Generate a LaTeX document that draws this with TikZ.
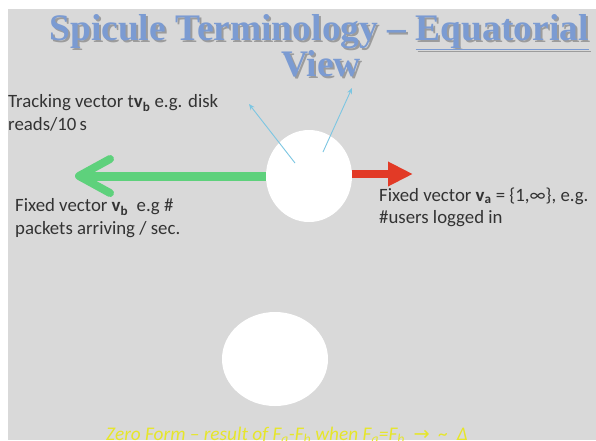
\documentclass[tikz,border=0pt]{standalone}
\usepackage{fontspec}
\setmainfont{Carlito}
\newfontfamily\titlefont{Liberation Serif}
\newfontfamily\symfont{DejaVu Sans}
\usetikzlibrary{shapes.geometric,arrows.meta}
\definecolor{bg}{HTML}{D9D9D9}
\definecolor{titleblue}{HTML}{7B9BD2}
\definecolor{shadowgray}{HTML}{9C9C9C}
\definecolor{arrgreen}{HTML}{5ED17C}
\definecolor{arrred}{HTML}{E23A26}
\definecolor{thinblue}{HTML}{7CC6E2}
\definecolor{zeroyellow}{HTML}{E6E62A}
\definecolor{txt}{HTML}{333333}
\newcommand{\shadowed}[1]{\makebox[0pt][l]{\hspace{2pt}\raisebox{-2pt}{\color{shadowgray}#1}}#1}
\tikzset{
  ball/.style={ellipse, fill=white, draw=none, inner sep=0pt},
  label text/.style={font=\fontsize{18.8}{22.5}\selectfont, text=txt, align=left, anchor=north west, inner sep=0pt},
  title text/.style={font=\titlefont\bfseries\fontsize{37.5}{40}\selectfont, text=titleblue, inner sep=0pt, anchor=base},
  thinarrow/.style={draw=thinblue, line width=0.9pt, -{Stealth[length=6pt,width=5pt]}},
}
\begin{document}
\begin{tikzpicture}[x=1pt,y=-1pt]
\useasboundingbox (0,0) rectangle (596,440);
\clip (0,0) rectangle (596,440);
\fill[bg] (8,9) rectangle (596,440);
% title
\node[title text] (t1) at (319,40) {\shadowed{Spicule Terminology – \underline{Equatorial}}};
\node[title text] (t2) at (321,76) {\shadowed{View}};
% balls
\node[ball, minimum width=86pt, minimum height=92pt] (c1) at (309,176) {};
\node[ball, minimum width=106pt, minimum height=94pt] (c2) at (275,359) {};
% blue tracking arrows
\coordinate (b1s) at (295,163);
\coordinate (b1e) at (249,104);
\coordinate (b2s) at (323,152);
\coordinate (b2e) at (352,88);
\draw[thinarrow] (b1s) -- (b1e);
\draw[thinarrow] (b2s) -- (b2e);
% green arrow
\coordinate (gtip) at (79,176);
\coordinate (gw1) at (110,159);
\coordinate (gw2) at (110,193);
\draw[arrgreen, line width=9pt] (c1.west) -- (gtip);
\draw[arrgreen, line width=8pt, line cap=round, line join=round] (gw1) -- (gtip) -- (gw2);
% red arrow
\coordinate (rtip) at (413,174);
\draw[arrred, line width=8pt, -{Triangle[length=25pt,width=23pt]}] (c1.east |- rtip) -- (rtip);
% labels
\node[label text] (l1) at (8,94.5) {Tracking vector t\textbf{v}\textsubscript{\textbf{b}} e.g. disk\\reads/10\,s};
\node[label text] (l2) at (15,198.5) {Fixed vector \textbf{v}\textsubscript{\textbf{b}}\ \ e.g \#\\packets arriving / sec.};
\node[label text] (l3) at (379,187.5) {Fixed vector \textbf{v}\textsubscript{\textbf{a}} = \{1,∞\}, e.g.\\\#users logged in};
% bottom text
\node[font=\itshape\fontsize{19.3}{22}\selectfont, text=zeroyellow, inner sep=0pt, anchor=base] (z) at (287,440.5)
  {Zero Form – result of F\textsubscript{a}-F\textsubscript{b} when F\textsubscript{a}=F\textsubscript{b}\ \ {\symfont →}\ \ \textasciitilde\ \ Δ};
\end{tikzpicture}
\end{document}
